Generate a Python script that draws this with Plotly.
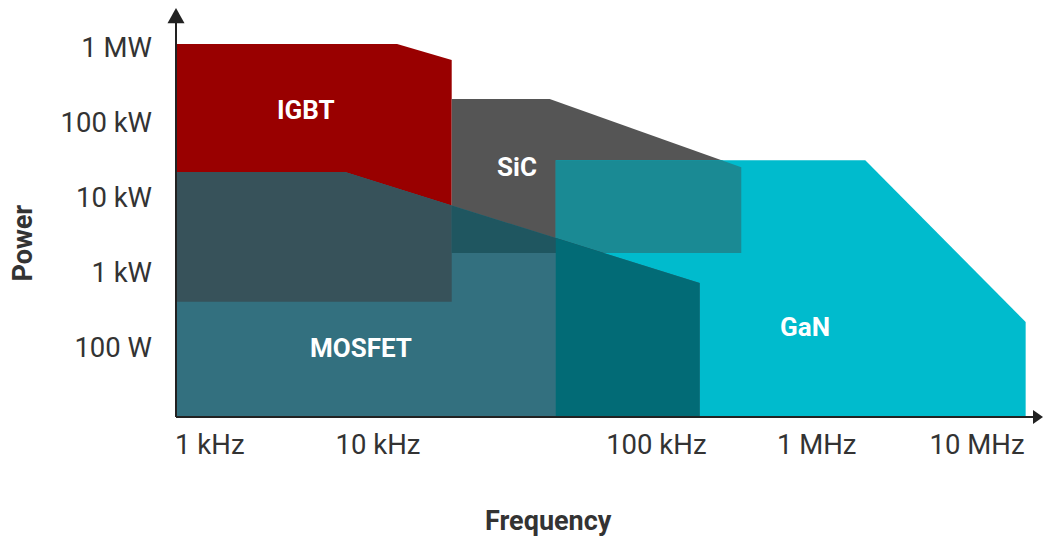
import math
import plotly.graph_objects as go

# Operating regions of power switch technologies.
# x: position along the frequency axis (0-100 scale), p: power in watts.
igbt_x = [0, 25.5, 31.8, 31.8, 0]
igbt_p = [1.1e6, 1.1e6, 6.7e5, 400, 400]

sic_x = [31.8, 43.1, 65.2, 65.2, 31.8]
sic_p = [2.03e5, 2.03e5, 2.5e4, 1.79e3, 1.79e3]

gan_x = [43.8, 79.5, 98.0, 98.0, 43.8]
gan_p = [3.1e4, 3.1e4, 215, 10, 10]

mosfet_x = [0, 19.5, 60.4, 60.4, 0]
mosfet_p = [2.15e4, 2.15e4, 713, 10, 10]

# Axis ticks
freq_tick_pos = [3.9, 23.3, 55.4, 73.9, 92.4]
freq_tick_text = ["1 kHz", "10 kHz", "100 kHz", "1 MHz", "10 MHz"]
power_tick_vals = [100, 1e3, 1e4, 1e5, 1e6]
power_tick_text = ["100 W", "1 kW", "10 kW", "100 kW", "1 MW"]

COLORS = {
    "IGBT": "#990000",
    "SiC": "#555555",
    "GaN": "#00BBCD",
    "MOSFET": "#33707F",
    "SiC+GaN": "#1A8A94",
    "MOSFET+IGBT": "#37525A",
    "MOSFET+SiC": "#1F5660",
    "MOSFET+GaN": "#026B76",
}


def to_poly(xs, ps):
    return [(x, math.log10(p)) for x, p in zip(xs, ps)]


def signed_area(poly):
    return sum(poly[i][0] * poly[(i + 1) % len(poly)][1]
               - poly[(i + 1) % len(poly)][0] * poly[i][1]
               for i in range(len(poly))) / 2


def clip_poly(subject, clipper):
    """Sutherland-Hodgman clipping against a convex polygon (in x / log10 p space)."""
    s = 1 if signed_area(clipper) > 0 else -1
    out = list(subject)
    for i in range(len(clipper)):
        a = clipper[i]
        b = clipper[(i + 1) % len(clipper)]
        inp, out = out, []
        if not inp:
            break

        def inside(pt):
            return s * ((b[0] - a[0]) * (pt[1] - a[1]) - (b[1] - a[1]) * (pt[0] - a[0])) >= -1e-12

        def cross(p, q):
            x1, y1 = p
            x2, y2 = q
            x3, y3 = a
            x4, y4 = b
            den = (x1 - x2) * (y3 - y4) - (y1 - y2) * (x3 - x4)
            t = ((x1 - x3) * (y3 - y4) - (y1 - y3) * (x3 - x4)) / den
            return (x1 + t * (x2 - x1), y1 + t * (y2 - y1))

        for j in range(len(inp)):
            cur, prev = inp[j], inp[j - 1]
            if inside(cur):
                if not inside(prev):
                    out.append(cross(prev, cur))
                out.append(cur)
            elif inside(prev):
                out.append(cross(prev, cur))
    return out


igbt = to_poly(igbt_x, igbt_p)
sic = to_poly(sic_x, sic_p)
gan = to_poly(gan_x, gan_p)
mosfet = to_poly(mosfet_x, mosfet_p)

layers = [
    (igbt, COLORS["IGBT"]),
    (sic, COLORS["SiC"]),
    (gan, COLORS["GaN"]),
    (clip_poly(sic, gan), COLORS["SiC+GaN"]),
    (mosfet, COLORS["MOSFET"]),
    (clip_poly(mosfet, igbt), COLORS["MOSFET+IGBT"]),
    (clip_poly(mosfet, sic), COLORS["MOSFET+SiC"]),
    (clip_poly(mosfet, gan), COLORS["MOSFET+GaN"]),
]

fig = go.Figure()
for poly, color in layers:
    if not poly:
        continue
    xs = [pt[0] for pt in poly] + [poly[0][0]]
    ys = [10 ** pt[1] for pt in poly] + [10 ** poly[0][1]]
    fig.add_trace(go.Scatter(
        x=xs, y=ys, mode="lines", fill="toself", fillcolor=color,
        line=dict(width=0, color=color), hoverinfo="skip", showlegend=False,
    ))

label_font = dict(family="Roboto", size=26, color="white", weight=700)
region_labels = [
    ("IGBT", 15.0, 10 ** 5.16),
    ("SiC", 39.3, 10 ** 4.40),
    ("GaN", 72.5, 10 ** 2.27),
    ("MOSFET", 21.3, 10 ** 1.99),
]
for text, x, y in region_labels:
    fig.add_annotation(x=x, y=math.log10(y), text=text, showarrow=False,
                       font=label_font, xanchor="center", yanchor="middle")

title_font = dict(family="Roboto", size=27, color="#333333", weight=700)
fig.add_annotation(x=(548 - 176) / 867, y=-0.255, xref="paper", yref="paper",
                   text="Frequency", showarrow=False, font=title_font,
                   xanchor="center", yanchor="middle")
fig.add_annotation(x=-0.177, y=(417 - 243) / 409, xref="paper", yref="paper",
                   text="Power", showarrow=False, font=title_font, textangle=-90,
                   xanchor="center", yanchor="middle")

axis_color = "#222222"
shapes = [
    dict(type="line", xref="paper", yref="paper", x0=0, y0=0, x1=0.99, y1=0,
         line=dict(color=axis_color, width=2)),
    dict(type="line", xref="paper", yref="paper", x0=0, y0=0, x1=0, y1=0.975,
         line=dict(color=axis_color, width=2)),
    dict(type="path", xref="paper", yref="paper",
         path="M 1.0 0 L 0.9885 0.0171 L 0.9885 -0.0171 Z",
         fillcolor=axis_color, line=dict(width=0)),
    dict(type="path", xref="paper", yref="paper",
         path="M 0 1.0 L 0.0098 0.963 L -0.0098 0.963 Z",
         fillcolor=axis_color, line=dict(width=0)),
]

tick_font = dict(family="Roboto", size=27.5, color="#333333")
fig.update_layout(
    width=1043, height=537,
    margin=dict(l=176, r=0, t=8, b=120),
    paper_bgcolor="white", plot_bgcolor="white",
    shapes=shapes,
    xaxis=dict(range=[0, 100], showgrid=False, zeroline=False, showline=False,
               tickvals=freq_tick_pos, ticktext=freq_tick_text, ticks="",
               tickfont=tick_font, ticklabelstandoff=8, fixedrange=True),
    yaxis=dict(type="log", range=[1.0667, 6.52], showgrid=False, zeroline=False,
               showline=False, tickvals=power_tick_vals, ticktext=power_tick_text,
               ticks="", tickfont=tick_font, ticklabelstandoff=23, fixedrange=True),
)

fig.write_html("out.html")
